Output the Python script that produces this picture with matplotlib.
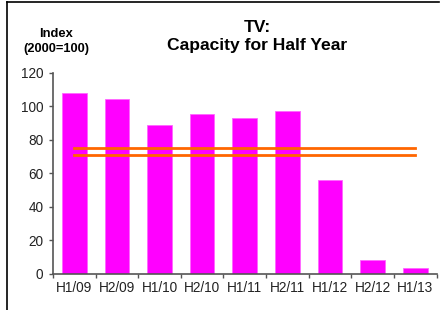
import matplotlib
matplotlib.use("Agg")
import matplotlib.pyplot as plt
from matplotlib.lines import Line2D
import numpy as np

categories = ["H1/09", "H2/09", "H1/10", "H2/10", "H1/11", "H2/11", "H1/12", "H2/12", "H1/13"]
values = [108, 104, 89, 95, 93, 97, 56, 8, 3.5]
upper_line = 75
lower_line = 71
yticks = [0, 20, 40, 60, 80, 100, 120]

plt.rcParams['font.family'] = ['Liberation Sans', 'DejaVu Sans']

fig = plt.figure(figsize=(4.4, 3.1), dpi=100)
ax = fig.add_axes([53/440, 1-273.7/310, (436.5-53)/440, (273.7-72.6)/310])

x = np.arange(len(categories))
ax.bar(x, values, width=0.58, color='#FF00FF', edgecolor='#FF66FF', linewidth=0.6, zorder=2)
for yv in (upper_line, lower_line):
    ax.plot([x[0], x[-1]], [yv, yv], color='#FF6600', lw=2.0, zorder=3)

ax.set_xlim(-0.5, len(categories) - 0.5)
ax.set_ylim(0, 120)
ax.set_yticks(yticks)
ax.set_xticks(x)
ax.set_xticklabels(categories)
ax.set_xticks(np.arange(-0.5, len(categories)), minor=True)
ax.tick_params(axis='x', which='major', length=0, labelsize=9.8, pad=5, colors='#222222')
ax.tick_params(axis='x', which='minor', length=3, width=1, color='#555555')
ax.tick_params(axis='y', length=3, width=1, color='#555555', labelsize=9.8, labelcolor='#222222', pad=4)
for s in ('top', 'right'):
    ax.spines[s].set_visible(False)
for s in ('left', 'bottom'):
    ax.spines[s].set_color('#555555')
    ax.spines[s].set_linewidth(1.2)

fig.text(257/440, 1-36.5/310, "TV:\nCapacity for Half Year", ha='center', va='center',
         fontsize=12.6, fontweight='bold', linespacing=1.2)
fig.text(56/440, 1-41.5/310, "Index\n(2000=100)", ha='center', va='center',
         fontsize=9.3, fontweight='bold', linespacing=1.4)

fig.add_artist(Line2D([7/440, 7/440], [0, 1-2/310], transform=fig.transFigure, color='black', lw=1.2))
fig.add_artist(Line2D([7/440, 439/440], [1-2/310, 1-2/310], transform=fig.transFigure, color='black', lw=1.2))

fig.savefig("out.png", dpi=100)
